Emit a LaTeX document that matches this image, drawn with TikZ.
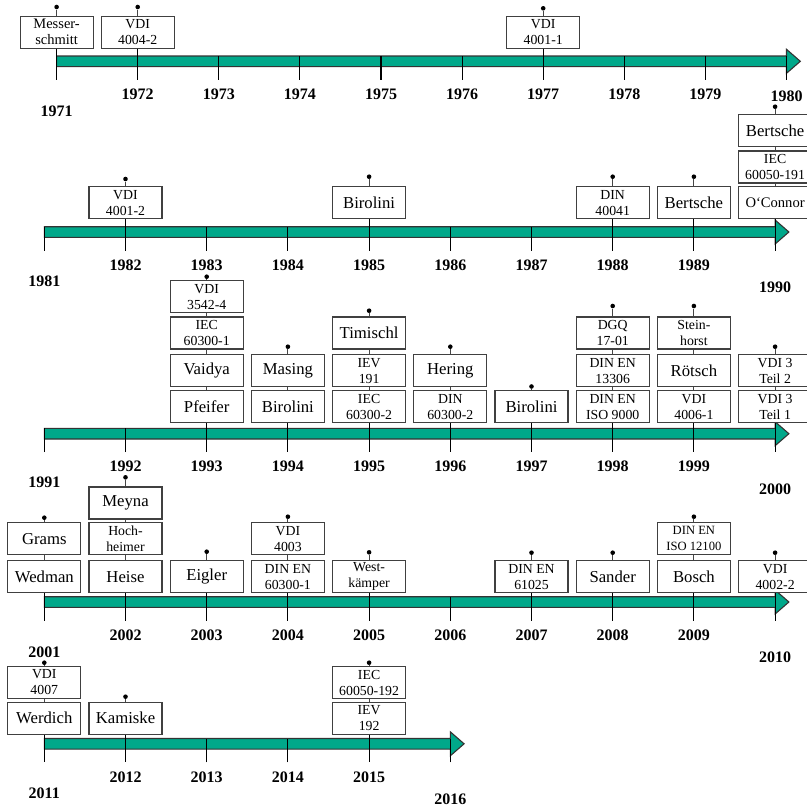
\documentclass[tikz,border=0pt]{standalone}
\usepackage{fontspec}
\setmainfont{Liberation Serif}
\usepackage{tikz}

\definecolor{bandgreen}{RGB}{0,168,138}
\definecolor{framegray}{RGB}{64,64,64}
\definecolor{stemgray}{RGB}{70,70,70}

\newcommand{\smalltext}{\fontsize{13.8}{16}\selectfont}
\newcommand{\nametext}{\fontsize{16.7}{18}\selectfont}
\newcommand{\yeartext}{\fontsize{16}{18}\selectfont\bfseries}

\begin{document}
\begin{tikzpicture}[x=1pt,y=-1pt,
  docbox/.style={draw=framegray,fill=white,line width=1.1pt,minimum width=73pt,minimum height=32pt,inner sep=0pt,align=center,font=\smalltext},
  namebox/.style={docbox,font=\nametext},
  yearlabel/.style={font=\yeartext,inner sep=0pt},
  knob/.style={circle,fill=black,inner sep=0pt,minimum size=4.6pt},
  stem/.style={stemgray,line width=1.1pt},
  tick/.style={black,line width=1.1pt},
  band/.style={fill=bandgreen,draw=black!80,line width=1.1pt}]
\useasboundingbox (0,0) rectangle (807,807);

% ---- 1971 - 1980
\draw[band] (56.6,56) -- (786.5,56) -- (786.5,49.3) -- (800.3,61.3) -- (786.5,73.3) -- (786.5,66.6) -- (56.6,66.6) -- cycle;
\node[docbox,font=\fontsize{14.5}{16}\selectfont] (b1971a) at (56.6,32.3) {Messer-\\schmitt};
\node[docbox] (b1972a) at (137.7,32.3) {VDI\\4004-2};
\node[docbox] (b1977a) at (543.2,32.3) {VDI\\4001-1};
\node[knob] (p1971) at (56.6,7) {};
\node[knob] (p1972) at (137.7,7) {};
\node[knob] (p1977) at (543.2,8.3) {};
\coordinate (k1971) at (56.6,79.8);
\coordinate (k1972) at (137.7,79.8);
\coordinate (k1973) at (218.8,79.8);
\coordinate (k1974) at (299.9,79.8);
\coordinate (k1975) at (381.0,79.8);
\coordinate (k1976) at (462.1,79.8);
\coordinate (k1977) at (543.2,79.8);
\coordinate (k1978) at (624.3,79.8);
\coordinate (k1979) at (705.4,79.8);
\coordinate (k1980) at (786.5,79.8);
\draw[stem] (p1971) -- (b1971a.north);
\draw[stem] (p1972) -- (b1972a.north);
\draw[stem] (p1977) -- (b1977a.north);
\draw[tick] (b1971a.south) -- (k1971);
\draw[tick] (b1972a.south) -- (k1972);
\draw[tick] (k1973) -- ++(0,-23.8);
\draw[tick] (k1974) -- ++(0,-23.8);
\draw[tick] (k1975) -- ++(0,-23.8);
\draw[tick] (k1976) -- ++(0,-23.8);
\draw[tick] (b1977a.south) -- (k1977);
\draw[tick] (k1978) -- ++(0,-23.8);
\draw[tick] (k1979) -- ++(0,-23.8);
\draw[tick] (k1980) -- ++(0,-23.8);
\node[yearlabel] (l1971) at (56.6,111.7) {1971};
\node[yearlabel] (l1972) at (137.7,94.6) {1972};
\node[yearlabel] (l1973) at (218.8,94.6) {1973};
\node[yearlabel] (l1974) at (299.9,94.6) {1974};
\node[yearlabel] (l1975) at (381.0,94.6) {1975};
\node[yearlabel] (l1976) at (462.1,94.6) {1976};
\node[yearlabel] (l1977) at (543.2,94.6) {1977};
\node[yearlabel] (l1978) at (624.3,94.6) {1978};
\node[yearlabel] (l1979) at (705.4,94.6) {1979};
\node[yearlabel] (l1980) at (786.5,96.7) {1980};

% ---- 1981 - 1990
\draw[band] (44.3,226.7) -- (775.1,226.7) -- (775.1,220) -- (788.9,232) -- (775.1,244) -- (775.1,237.3) -- (44.3,237.3) -- cycle;
\node[docbox] (b1982a) at (125.5,202.8) {VDI\\4001-2};
\node[namebox] (b1985a) at (369.1,202.8) {Birolini};
\node[docbox] (b1988a) at (612.7,202.8) {DIN\\40041};
\node[namebox] (b1989a) at (693.9,202.8) {Bertsche};
\node[namebox,font=\fontsize{14.6}{16}\selectfont] (b1990a) at (775.1,202.8) {O‘Connor};
\node[docbox] (b1990b) at (775.1,167) {IEC\\60050-191};
\node[namebox] (b1990c) at (775.1,130.4) {Bertsche};
\node[knob] (p1982) at (125.5,179) {};
\node[knob] (p1985) at (369.1,176.7) {};
\node[knob] (p1988) at (612.7,176.7) {};
\node[knob] (p1989) at (693.9,176.7) {};
\node[knob] (p1990) at (775.1,106.7) {};
\coordinate (k1981) at (44.3,250.5);
\coordinate (k1982) at (125.5,250.5);
\coordinate (k1983) at (206.7,250.5);
\coordinate (k1984) at (287.9,250.5);
\coordinate (k1985) at (369.1,250.5);
\coordinate (k1986) at (450.3,250.5);
\coordinate (k1987) at (531.5,250.5);
\coordinate (k1988) at (612.7,250.5);
\coordinate (k1989) at (693.9,250.5);
\coordinate (k1990) at (775.1,250.5);
\draw[stem] (p1982) -- (b1982a.north);
\draw[stem] (p1985) -- (b1985a.north);
\draw[stem] (p1988) -- (b1988a.north);
\draw[stem] (p1989) -- (b1989a.north);
\draw[stem] (p1990) -- (b1990c.north);
\draw[stem] (b1990c.south) -- (b1990b.north);
\draw[stem] (b1990b.south) -- (b1990a.north);
\draw[tick] (k1981) -- ++(0,-23.8);
\draw[tick] (b1982a.south) -- (k1982);
\draw[tick] (k1983) -- ++(0,-23.8);
\draw[tick] (k1984) -- ++(0,-23.8);
\draw[tick] (b1985a.south) -- (k1985);
\draw[tick] (k1986) -- ++(0,-23.8);
\draw[tick] (k1987) -- ++(0,-23.8);
\draw[tick] (b1988a.south) -- (k1988);
\draw[tick] (b1989a.south) -- (k1989);
\draw[tick] (b1990a.south) -- (k1990);
\node[yearlabel] (l1981) at (44.3,281.7) {1981};
\node[yearlabel] (l1982) at (125.5,265.3) {1982};
\node[yearlabel] (l1983) at (206.7,265.3) {1983};
\node[yearlabel] (l1984) at (287.9,265.3) {1984};
\node[yearlabel] (l1985) at (369.1,265.3) {1985};
\node[yearlabel] (l1986) at (450.3,265.3) {1986};
\node[yearlabel] (l1987) at (531.5,265.3) {1987};
\node[yearlabel] (l1988) at (612.7,265.3) {1988};
\node[yearlabel] (l1989) at (693.9,265.3) {1989};
\node[yearlabel] (l1990) at (775.1,287.5) {1990};

% ---- 1991 - 2000
\draw[band] (44.3,428.4) -- (775.1,428.4) -- (775.1,421.7) -- (788.9,433.7) -- (775.1,445.7) -- (775.1,439) -- (44.3,439) -- cycle;
\node[namebox] (b1993a) at (206.7,406.7) {Pfeifer};
\node[namebox] (b1993b) at (206.7,370.7) {Vaidya};
\node[docbox] (b1993c) at (206.7,333) {IEC\\60300-1};
\node[docbox] (b1993d) at (206.7,296.7) {VDI\\3542-4};
\node[namebox] (b1994a) at (287.9,406.7) {Birolini};
\node[namebox] (b1994b) at (287.9,370.7) {Masing};
\node[docbox] (b1995a) at (369.1,406.7) {IEC\\60300-2};
\node[docbox] (b1995b) at (369.1,370.7) {IEV\\191};
\node[namebox] (b1995c) at (369.1,333) {Timischl};
\node[docbox] (b1996a) at (450.3,406.7) {DIN\\60300-2};
\node[namebox] (b1996b) at (450.3,370.7) {Hering};
\node[namebox] (b1997a) at (531.5,406.7) {Birolini};
\node[docbox] (b1998a) at (612.7,406.7) {DIN EN\\ISO 9000};
\node[docbox] (b1998b) at (612.7,370.7) {DIN EN\\13306};
\node[docbox] (b1998c) at (612.7,333) {DGQ\\17-01};
\node[docbox] (b1999a) at (693.9,406.7) {VDI\\4006-1};
\node[namebox] (b1999b) at (693.9,370.7) {Rötsch};
\node[docbox] (b1999c) at (693.9,333) {Stein-\\horst};
\node[docbox] (b2000a) at (775.1,406.7) {VDI 3\\Teil 1};
\node[docbox] (b2000b) at (775.1,370.7) {VDI 3\\Teil 2};
\node[knob] (p1993) at (206.7,276.7) {};
\node[knob] (p1994) at (287.9,346.7) {};
\node[knob] (p1995) at (369.1,310.7) {};
\node[knob] (p1996) at (450.3,346.7) {};
\node[knob] (p1997) at (531.5,386.5) {};
\node[knob] (p1998) at (612.7,306) {};
\node[knob] (p1999) at (693.9,306) {};
\node[knob] (p2000) at (775.1,346.7) {};
\coordinate (k1991) at (44.3,452.2);
\coordinate (k1992) at (125.5,452.2);
\coordinate (k1993) at (206.7,452.2);
\coordinate (k1994) at (287.9,452.2);
\coordinate (k1995) at (369.1,452.2);
\coordinate (k1996) at (450.3,452.2);
\coordinate (k1997) at (531.5,452.2);
\coordinate (k1998) at (612.7,452.2);
\coordinate (k1999) at (693.9,452.2);
\coordinate (k2000) at (775.1,452.2);
\draw[stem] (p1993) -- (b1993d.north);
\draw[stem] (b1993d.south) -- (b1993c.north);
\draw[stem] (b1993c.south) -- (b1993b.north);
\draw[stem] (b1993b.south) -- (b1993a.north);
\draw[stem] (p1994) -- (b1994b.north);
\draw[stem] (b1994b.south) -- (b1994a.north);
\draw[stem] (p1995) -- (b1995c.north);
\draw[stem] (b1995c.south) -- (b1995b.north);
\draw[stem] (b1995b.south) -- (b1995a.north);
\draw[stem] (p1996) -- (b1996b.north);
\draw[stem] (b1996b.south) -- (b1996a.north);
\draw[stem] (p1997) -- (b1997a.north);
\draw[stem] (p1998) -- (b1998c.north);
\draw[stem] (b1998c.south) -- (b1998b.north);
\draw[stem] (b1998b.south) -- (b1998a.north);
\draw[stem] (p1999) -- (b1999c.north);
\draw[stem] (b1999c.south) -- (b1999b.north);
\draw[stem] (b1999b.south) -- (b1999a.north);
\draw[stem] (p2000) -- (b2000b.north);
\draw[stem] (b2000b.south) -- (b2000a.north);
\draw[tick] (k1991) -- ++(0,-23.8);
\draw[tick] (k1992) -- ++(0,-23.8);
\draw[tick] (b1993a.south) -- (k1993);
\draw[tick] (b1994a.south) -- (k1994);
\draw[tick] (b1995a.south) -- (k1995);
\draw[tick] (b1996a.south) -- (k1996);
\draw[tick] (b1997a.south) -- (k1997);
\draw[tick] (b1998a.south) -- (k1998);
\draw[tick] (b1999a.south) -- (k1999);
\draw[tick] (b2000a.south) -- (k2000);
\node[yearlabel] (l1991) at (44.3,482.7) {1991};
\node[yearlabel] (l1992) at (125.5,466.3) {1992};
\node[yearlabel] (l1993) at (206.7,466.3) {1993};
\node[yearlabel] (l1994) at (287.9,466.3) {1994};
\node[yearlabel] (l1995) at (369.1,466.3) {1995};
\node[yearlabel] (l1996) at (450.3,466.3) {1996};
\node[yearlabel] (l1997) at (531.5,466.3) {1997};
\node[yearlabel] (l1998) at (612.7,466.3) {1998};
\node[yearlabel] (l1999) at (693.9,466.3) {1999};
\node[yearlabel] (l2000) at (775.1,489.5) {2000};

% ---- 2001 - 2010
\draw[band] (44.3,596.7) -- (775.1,596.7) -- (775.1,590) -- (788.9,602) -- (775.1,614) -- (775.1,607.3) -- (44.3,607.3) -- cycle;
\node[namebox] (b2001a) at (44.3,576.7) {Wedman};
\node[namebox] (b2001b) at (44.3,538.8) {Grams};
\node[namebox] (b2002a) at (125.5,576.7) {Heise};
\node[docbox] (b2002b) at (125.5,538.8) {Hoch-\\heimer};
\node[namebox] (b2002c) at (125.5,503) {Meyna};
\node[namebox] (b2003a) at (206.7,576.7) {Eigler};
\node[docbox] (b2004a) at (287.9,576.7) {DIN EN\\60300-1};
\node[docbox] (b2004b) at (287.9,538.8) {VDI\\4003};
\node[docbox] (b2005a) at (369.1,576.7) {West-\\kämper};
\node[docbox] (b2007a) at (531.5,576.7) {DIN EN\\61025};
\node[namebox] (b2008a) at (612.7,576.7) {Sander};
\node[namebox] (b2009a) at (693.9,576.7) {Bosch};
\node[docbox,font=\fontsize{12.6}{16}\selectfont] (b2009b) at (693.9,538.8) {DIN EN\\ISO 12100};
\node[docbox] (b2010a) at (775.1,576.7) {VDI\\4002-2};
\node[knob] (p2001) at (44.3,517.7) {};
\node[knob] (p2002) at (125.5,477.3) {};
\node[knob] (p2003) at (206.7,551.7) {};
\node[knob] (p2004) at (287.9,516.7) {};
\node[knob] (p2005) at (369.1,552.3) {};
\node[knob] (p2007) at (531.5,552.7) {};
\node[knob] (p2008) at (612.7,552.7) {};
\node[knob] (p2009) at (693.9,516.7) {};
\node[knob] (p2010) at (775.1,552.7) {};
\coordinate (k2001) at (44.3,620.5);
\coordinate (k2002) at (125.5,620.5);
\coordinate (k2003) at (206.7,620.5);
\coordinate (k2004) at (287.9,620.5);
\coordinate (k2005) at (369.1,620.5);
\coordinate (k2006) at (450.3,620.5);
\coordinate (k2007) at (531.5,620.5);
\coordinate (k2008) at (612.7,620.5);
\coordinate (k2009) at (693.9,620.5);
\coordinate (k2010) at (775.1,620.5);
\draw[stem] (p2001) -- (b2001b.north);
\draw[stem] (b2001b.south) -- (b2001a.north);
\draw[stem] (p2002) -- (b2002c.north);
\draw[stem] (b2002c.south) -- (b2002b.north);
\draw[stem] (b2002b.south) -- (b2002a.north);
\draw[stem] (p2003) -- (b2003a.north);
\draw[stem] (p2004) -- (b2004b.north);
\draw[stem] (b2004b.south) -- (b2004a.north);
\draw[stem] (p2005) -- (b2005a.north);
\draw[stem] (p2007) -- (b2007a.north);
\draw[stem] (p2008) -- (b2008a.north);
\draw[stem] (p2009) -- (b2009b.north);
\draw[stem] (b2009b.south) -- (b2009a.north);
\draw[stem] (p2010) -- (b2010a.north);
\draw[tick] (b2001a.south) -- (k2001);
\draw[tick] (b2002a.south) -- (k2002);
\draw[tick] (b2003a.south) -- (k2003);
\draw[tick] (b2004a.south) -- (k2004);
\draw[tick] (b2005a.south) -- (k2005);
\draw[tick] (k2006) -- ++(0,-23.8);
\draw[tick] (b2007a.south) -- (k2007);
\draw[tick] (b2008a.south) -- (k2008);
\draw[tick] (b2009a.south) -- (k2009);
\draw[tick] (b2010a.south) -- (k2010);
\node[yearlabel] (l2001) at (44.3,652.5) {2001};
\node[yearlabel] (l2002) at (125.5,635.3) {2002};
\node[yearlabel] (l2003) at (206.7,635.3) {2003};
\node[yearlabel] (l2004) at (287.9,635.3) {2004};
\node[yearlabel] (l2005) at (369.1,635.3) {2005};
\node[yearlabel] (l2006) at (450.3,635.3) {2006};
\node[yearlabel] (l2007) at (531.5,635.3) {2007};
\node[yearlabel] (l2008) at (612.7,635.3) {2008};
\node[yearlabel] (l2009) at (693.9,635.3) {2009};
\node[yearlabel] (l2010) at (775.1,657.5) {2010};

% ---- 2011 - 2016
\draw[band] (44.3,738.5) -- (450.3,738.5) -- (450.3,731.8) -- (464.1,743.8) -- (450.3,755.8) -- (450.3,749.1) -- (44.3,749.1) -- cycle;
\node[namebox] (b2011a) at (44.3,718.2) {Werdich};
\node[docbox] (b2011b) at (44.3,682.5) {VDI\\4007};
\node[namebox] (b2012a) at (125.5,718.2) {Kamiske};
\node[docbox] (b2015a) at (369.1,718.2) {IEV\\192};
\node[docbox] (b2015b) at (369.1,682.5) {IEC\\60050-192};
\node[knob] (p2011) at (44.3,662.7) {};
\node[knob] (p2012) at (125.5,696.7) {};
\node[knob] (p2015) at (369.1,662.7) {};
\coordinate (k2011) at (44.3,762.3);
\coordinate (k2012) at (125.5,762.3);
\coordinate (k2013) at (206.7,762.3);
\coordinate (k2014) at (287.9,762.3);
\coordinate (k2015) at (369.1,762.3);
\coordinate (k2016) at (450.3,762.3);
\draw[stem] (p2011) -- (b2011b.north);
\draw[stem] (b2011b.south) -- (b2011a.north);
\draw[stem] (p2012) -- (b2012a.north);
\draw[stem] (p2015) -- (b2015b.north);
\draw[stem] (b2015b.south) -- (b2015a.north);
\draw[tick] (b2011a.south) -- (k2011);
\draw[tick] (b2012a.south) -- (k2012);
\draw[tick] (k2013) -- ++(0,-23.8);
\draw[tick] (k2014) -- ++(0,-23.8);
\draw[tick] (b2015a.south) -- (k2015);
\draw[tick] (k2016) -- ++(0,-23.8);
\node[yearlabel] (l2011) at (44.3,793.6) {2011};
\node[yearlabel] (l2012) at (125.5,777.1) {2012};
\node[yearlabel] (l2013) at (206.7,777.1) {2013};
\node[yearlabel] (l2014) at (287.9,777.1) {2014};
\node[yearlabel] (l2015) at (369.1,777.1) {2015};
\node[yearlabel] (l2016) at (450.3,799.3) {2016};
\end{tikzpicture}
\end{document}
